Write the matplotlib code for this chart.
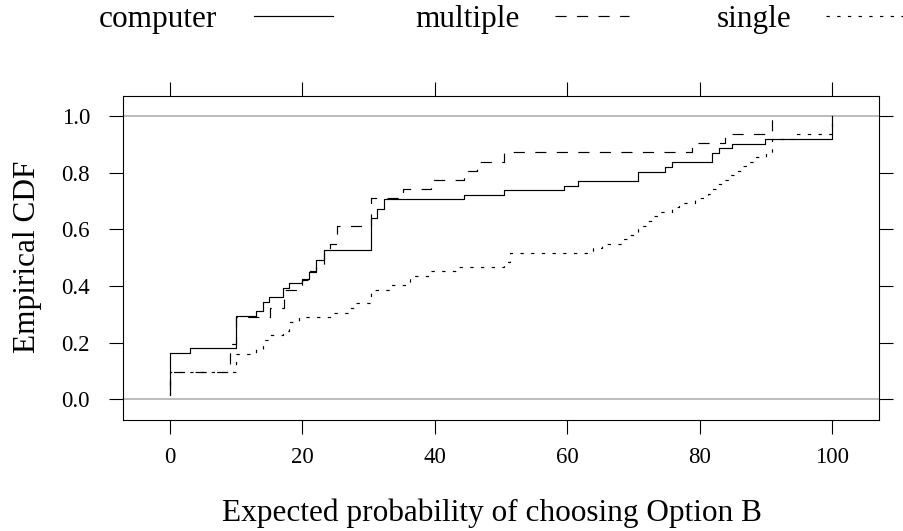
import matplotlib
matplotlib.use("Agg")
import matplotlib.pyplot as plt
from matplotlib.lines import Line2D
from matplotlib.ticker import FormatStrFormatter

plt.rcParams['font.family'] = ['Liberation Serif', 'DejaVu Serif']
plt.rcParams['lines.scale_dashes'] = False

# empirical CDF of each group: position of each step and the share reached after it
computer_x = [0, 0, 3, 10, 13, 14, 15, 17, 18, 20, 21, 22, 23.2, 30.3, 31.3, 32.3,
              44.4, 50.5, 59.5, 61.6, 70.7, 74.7, 75.8, 81.8, 82.9, 84.8, 89.9, 100]
computer_y = [0.016, 0.164, 0.180, 0.295, 0.311, 0.344, 0.361, 0.393, 0.410, 0.426,
              0.448, 0.492, 0.525, 0.639, 0.672, 0.705, 0.721, 0.738, 0.754, 0.770,
              0.803, 0.820, 0.836, 0.869, 0.885, 0.902, 0.918, 1.0]

multiple_x = [0, 0, 9, 10, 15.1, 17.2, 20, 21, 22, 23.2, 24.2, 25.2, 30.3, 35.2,
              39.4, 44.4, 46.4, 50.5, 78.8, 83.8, 90.9]
multiple_y = [0.032, 0.097, 0.194, 0.290, 0.323, 0.387, 0.419, 0.452, 0.470, 0.516,
              0.548, 0.613, 0.710, 0.742, 0.774, 0.806, 0.839, 0.871, 0.903, 0.935, 1.0]

single_x = [0, 0, 10, 13, 14, 15, 17, 18, 19.5, 24.5, 27, 28, 30.3, 33.3, 36.3, 39.3,
            43.3, 50.4, 51.3, 63.9, 65.3, 68.3, 69, 70.7, 71.8, 72.8, 73.8, 75.8, 76.9,
            79.3, 81.3, 81.9, 82.5, 83.5, 84.5, 85.3, 86.3, 87.3, 88.3, 90, 90.9, 94.7, 100]
single_y = [0.016, 0.097, 0.161, 0.177, 0.210, 0.226, 0.242, 0.274, 0.290, 0.306,
            0.323, 0.339, 0.387, 0.403, 0.435, 0.452, 0.468, 0.484, 0.516, 0.532,
            0.548, 0.565, 0.581, 0.613, 0.629, 0.645, 0.661, 0.677, 0.694, 0.710,
            0.726, 0.742, 0.758, 0.774, 0.790, 0.806, 0.823, 0.839, 0.855, 0.871,
            0.919, 0.935, 1.0]

groups = ["computer", "multiple", "single"]
styles = {
    "computer": "-",
    "multiple": (0, (8, 7.5)),
    "single": (0, (2.4, 5.3)),
}
series = {
    "computer": (computer_x, computer_y),
    "multiple": (multiple_x, multiple_y),
    "single": (single_x, single_y),
}

W, H = 904, 531
fig = plt.figure(figsize=(W / 100, H / 100), dpi=100)
ax = fig.add_axes([123.3 / W, 1 - 419.6 / H, (879 - 123.3) / W, (419.6 - 95.5) / H])

ax.axhline(0, color='#aaaaaa', lw=1.1, zorder=1)
ax.axhline(1, color='#aaaaaa', lw=1.1, zorder=1)

for g in groups:
    x, y = series[g]
    ax.plot(x, y, drawstyle='steps-post', color='black', lw=0.85,
            linestyle=styles[g], zorder=3)

ax.set_xlim(-7.05, 107.05)
ax.set_ylim(-0.072, 1.072)
ax.set_xticks([0, 20, 40, 60, 80, 100])
ax.set_yticks([0, 0.2, 0.4, 0.6, 0.8, 1.0])
ax.yaxis.set_major_formatter(FormatStrFormatter('%.1f'))
ax.tick_params(direction='out', length=10, width=0.8, labelsize=16.5,
               top=True, right=True, pad=10)
ax.tick_params(axis='y', pad=14)
for s in ax.spines.values():
    s.set_linewidth(0.8)

fig.text(492 / W, 1 - 513 / H, "Expected probability of choosing Option B",
         ha='center', va='center', fontsize=22.5)
fig.text(28 / W, 1 - 257 / H, "Empirical CDF", rotation=90,
         ha='center', va='center', fontsize=22.5)

# key across the top: label followed by a sample of the line
key = [
    ("computer", 158, 254, 333),
    ("multiple", 468, 555, 629),
    ("single", 754, 826, 904),
]
for g, tx, l0, l1 in key:
    fig.text(tx / W, 1 - 20 / H, g, ha='center', va='center', fontsize=22.5)
    fig.add_artist(Line2D([l0 / W, l1 / W], [1 - 16 / H, 1 - 16 / H],
                          transform=fig.transFigure, color='black', lw=0.85,
                          linestyle=styles[g]))

fig.savefig("out.png", dpi=100)
